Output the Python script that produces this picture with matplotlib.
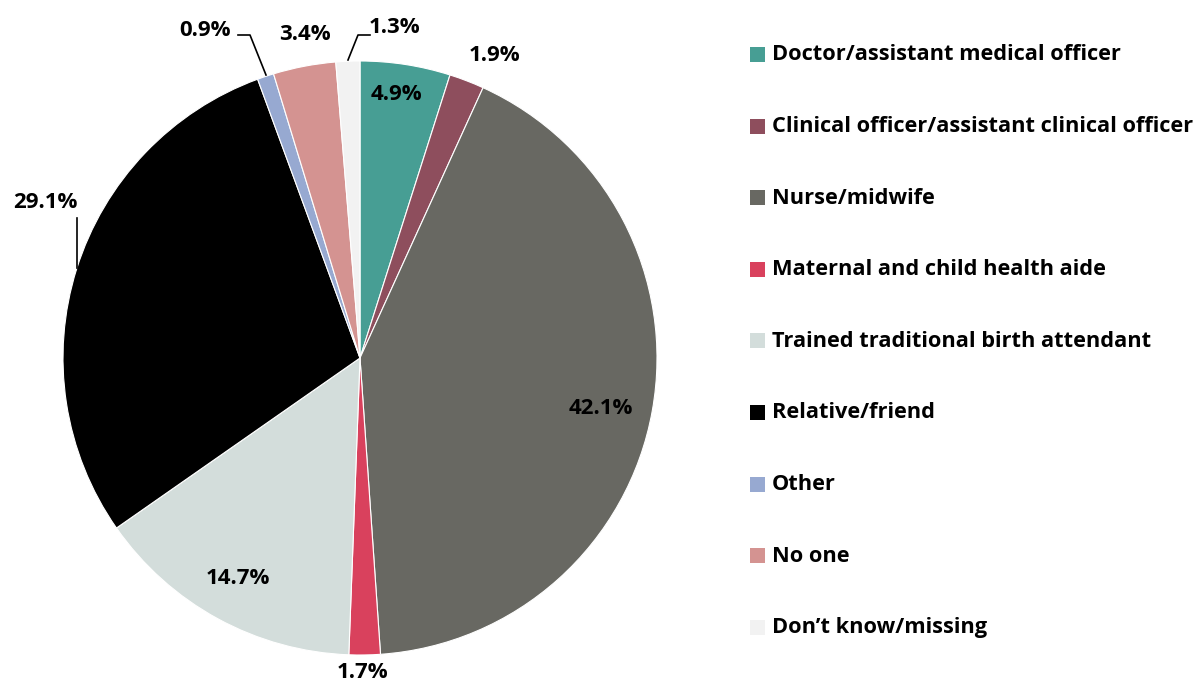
import matplotlib
matplotlib.use("Agg")
import matplotlib.pyplot as plt
from matplotlib.patches import Rectangle

plt.rcParams["font.family"] = ["Open Sans", "DejaVu Sans"]
plt.rcParams["font.weight"] = "bold"

categories = [
    "Doctor/assistant medical officer",
    "Clinical officer/assistant clinical officer",
    "Nurse/midwife",
    "Maternal and child health aide",
    "Trained traditional birth attendant",
    "Relative/friend",
    "Other",
    "No one",
    "Don\u2019t know/missing",
]
shares = [4.9, 1.9, 42.1, 1.7, 14.7, 29.1, 0.9, 3.4, 1.3]
colors = ["#479E94", "#8E4E5D", "#686862", "#D9415D", "#D3DDDB",
          "#000000", "#97A9D1", "#D49391", "#F2F2F2"]

W, H = 1198, 684
fig = plt.figure(figsize=(W / 100, H / 100), dpi=100)

cx, cy, r = 360, 358, 297
ax = fig.add_axes([(cx - r) / W, (H - cy - r) / H, 2 * r / W, 2 * r / H])
ax.pie(shares, startangle=90, counterclock=False, colors=colors,
       radius=1.0, wedgeprops=dict(edgecolor="white", linewidth=0.8))
ax.set_xlim(-1, 1)
ax.set_ylim(-1, 1)
ax.set_aspect("equal")
ax.axis("off")


def px(x, y):
    return (x - cx) / r, (cy - y) / r


# label positions in pixels of the reference
label_pos = [(396, 95), (494, 55), (601, 408), (362, 672), (238, 579),
             (45, 202), (205, 30), (305, 35), (395, 27)]
for v, (x, y) in zip(shares, label_pos):
    ax.text(*px(x, y), f"{v:.1f}%", ha="center", va="center",
            fontsize=16, fontweight="bold", clip_on=False)

# leader lines
leaders = [
    [(77, 218), (77, 268)],
    [(238, 35), (250, 35), (266, 75)],
    [(370, 35), (358, 35), (348, 60)],
]
for pts in leaders:
    xs, ys = zip(*[px(x, y) for x, y in pts])
    ax.plot(xs, ys, color="black", linewidth=1.2, clip_on=False)

# legend
y0, dy = 55, 71.6
for i, (name, c) in enumerate(zip(categories, colors)):
    y = y0 + i * dy
    fig.add_artist(Rectangle((750 / W, 1 - (y + 7) / H), 15 / W, 15 / H,
                             transform=fig.transFigure, facecolor=c,
                             edgecolor="none"))
    fig.text(772 / W, 1 - y / H, name, ha="left", va="center",
             fontsize=15.7, fontweight="bold")

fig.savefig("out.png", dpi=100)
